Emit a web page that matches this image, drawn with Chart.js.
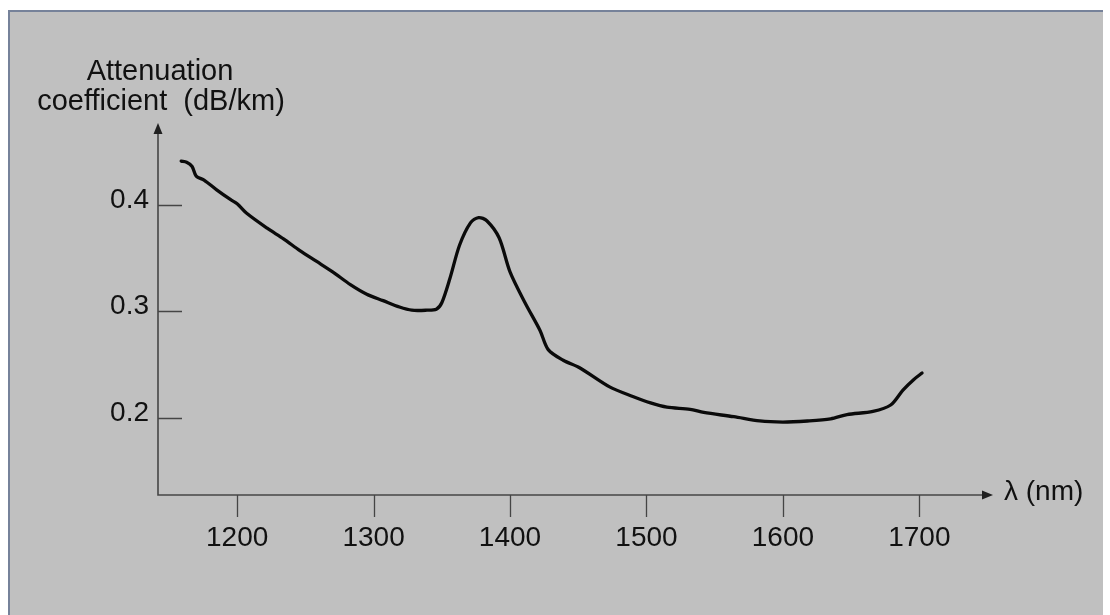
<!DOCTYPE html>
<html>
<head>
<meta charset="utf-8">
<script src="https://cdn.jsdelivr.net/npm/chart.js@4.4.1/dist/chart.umd.min.js"></script>
<style>
  html, body { margin: 0; padding: 0; background: #fff; overflow: hidden; }
  #wrap { width: 1110px; height: 615px; position: relative; }
</style>
</head>
<body>
<div id="wrap"><canvas id="lossChart"></canvas></div>
<script>
// wavelength (nm) and attenuation (dB/km)
const wavelengths = [1159, 1163, 1167, 1170, 1176, 1185, 1195, 1200, 1207, 1222,
    1234, 1246, 1258, 1270, 1283, 1295, 1307, 1319, 1328, 1339,
    1346, 1350, 1356, 1363, 1371, 1377, 1383, 1392, 1400,
    1411, 1422, 1428, 1439, 1451, 1473, 1490, 1503, 1515, 1532,
    1542, 1564, 1583, 1600, 1618, 1635, 1647, 1666, 1679, 1688,
    1696, 1702];
const attenuation = [0.441, 0.440, 0.436, 0.427, 0.423, 0.414, 0.405, 0.401, 0.392, 0.378,
    0.368, 0.357, 0.347, 0.337, 0.325, 0.316, 0.310, 0.304, 0.301, 0.301,
    0.302, 0.308, 0.331, 0.362, 0.383, 0.388, 0.385, 0.369, 0.337,
    0.308, 0.282, 0.264, 0.254, 0.247, 0.229, 0.220, 0.214, 0.210, 0.208,
    0.205, 0.201, 0.197, 0.196, 0.197, 0.199, 0.203, 0.206, 0.212, 0.226,
    0.236, 0.242];
const xTicks = [1200, 1300, 1400, 1500, 1600, 1700];
const yTicks = [0.2, 0.3, 0.4];
const yTitle = ['Attenuation', 'coefficient  (dB/km)'];
const xTitle = 'λ (nm)';

const FONT = '"Liberation Sans", Arial, sans-serif';

const figurePlugin = {
    id: 'figure',
    beforeDraw(chart) {
        const ctx = chart.ctx;
        ctx.save();
        ctx.fillStyle = '#ffffff';
        ctx.fillRect(0, 0, chart.width, chart.height);
        ctx.fillStyle = '#c0c0c0';
        ctx.fillRect(10, 12, chart.width - 17, chart.height - 12);
        ctx.strokeStyle = '#76829a';
        ctx.lineWidth = 2;
        ctx.beginPath();
        ctx.moveTo(9, chart.height);
        ctx.lineTo(9, 11);
        ctx.lineTo(chart.width - 7, 11);
        ctx.stroke();
        ctx.restore();
    },
    afterDraw(chart) {
        const ctx = chart.ctx;
        const a = chart.chartArea;
        const x = chart.scales.x, y = chart.scales.y;
        ctx.save();
        ctx.strokeStyle = '#454545';
        ctx.fillStyle = '#202020';
        ctx.lineWidth = 1.6;

        // axes
        ctx.beginPath();
        ctx.moveTo(a.left, a.top + 8);
        ctx.lineTo(a.left, a.bottom);
        ctx.lineTo(a.right - 8, a.bottom);
        ctx.stroke();

        // arrow heads
        ctx.beginPath();
        ctx.moveTo(a.left, a.top);
        ctx.lineTo(a.left - 4.5, a.top + 11);
        ctx.lineTo(a.left + 4.5, a.top + 11);
        ctx.closePath();
        ctx.fill();
        ctx.beginPath();
        ctx.moveTo(a.right, a.bottom);
        ctx.lineTo(a.right - 11, a.bottom - 4.5);
        ctx.lineTo(a.right - 11, a.bottom + 4.5);
        ctx.closePath();
        ctx.fill();

        // tick marks
        ctx.lineWidth = 1.3;
        ctx.beginPath();
        yTicks.forEach(v => {
            const py = Math.round(y.getPixelForValue(v)) + 0.5;
            ctx.moveTo(a.left, py);
            ctx.lineTo(a.left + 24, py);
        });
        xTicks.forEach(v => {
            const px = Math.round(x.getPixelForValue(v)) + 0.5;
            ctx.moveTo(px, a.bottom);
            ctx.lineTo(px, a.bottom + 22);
        });
        ctx.stroke();

        // axis titles
        ctx.fillStyle = '#111';
        ctx.font = '29px ' + FONT;
        ctx.textAlign = 'center';
        ctx.textBaseline = 'alphabetic';
        ctx.fillText(yTitle[0], a.left + 2, a.top - 43);
        ctx.fillText(yTitle[1], a.left + 3, a.top - 13);
        ctx.font = '28px ' + FONT;
        ctx.textAlign = 'left';
        ctx.fillText(xTitle, a.right + 11, a.bottom + 5);
        ctx.restore();
    }
};

const points = wavelengths.map((w, i) => ({ x: w, y: attenuation[i] }));

new Chart(document.getElementById('lossChart'), {
    type: 'line',
    data: {
        datasets: [{
            data: points,
            borderColor: '#0a0a0a',
            borderWidth: 3.3,
            pointRadius: 0,
            tension: 0.3,
            borderCapStyle: 'round',
            borderJoinStyle: 'round',
            fill: false
        }]
    },
    options: {
        responsive: true,
        maintainAspectRatio: false,
        animation: false,
        layout: { padding: { top: 123, right: 117, left: 0, bottom: 0 } },
        plugins: {
            legend: { display: false },
            tooltip: { enabled: false }
        },
        scales: {
            x: {
                type: 'linear',
                min: 1142,
                max: 1754,
                afterBuildTicks: s => { s.ticks = xTicks.map(v => ({ value: v })); },
                afterFit: s => { s.height = 120; },
                grid: { display: false, drawTicks: false },
                border: { display: false },
                ticks: {
                    padding: 26,
                    color: '#111',
                    autoSkip: false,
                    maxRotation: 0,
                    font: { size: 28, family: FONT },
                    callback: v => String(v)
                }
            },
            y: {
                type: 'linear',
                min: 0.1275,
                max: 0.4768,
                afterBuildTicks: s => { s.ticks = yTicks.map(v => ({ value: v })); },
                afterFit: s => { s.width = 158; },
                grid: { display: false, drawTicks: false },
                border: { display: false },
                ticks: {
                    padding: 9,
                    labelOffset: -5,
                    color: '#111',
                    font: { size: 28, family: FONT },
                    callback: v => v.toFixed(1)
                }
            }
        }
    },
    plugins: [figurePlugin]
});
</script>
</body>
</html>
